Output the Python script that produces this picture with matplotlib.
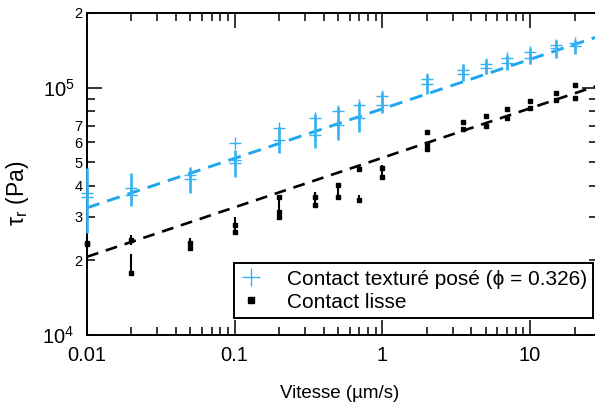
import matplotlib
matplotlib.use("Agg")
import matplotlib.pyplot as plt
import numpy as np
from matplotlib.ticker import FuncFormatter, LogLocator, NullFormatter

plt.rcParams["font.family"] = ["Liberation Sans", "DejaVu Sans"]
plt.rcParams["mathtext.fontset"] = "custom"
plt.rcParams["mathtext.rm"] = "Liberation Sans"
plt.rcParams["mathtext.default"] = "regular"

BLUE = "#36b2f2"

# speeds (µm/s), two runs per speed
speeds = [0.01, 0.02, 0.05, 0.1, 0.2, 0.35, 0.5, 0.7, 1, 2, 3.5, 5, 7, 10, 15, 20]

# textured contact (phi = 0.326)
tex_a = [3.75e4, 3.94e4, 4.44e4, 5.11e4, 6.89e4, 7.56e4, 8.0e4, 8.53e4,
         9.2e4, 1.08e5, 1.18e5, 1.25e5, 1.32e5, 1.39e5, 1.49e5, 1.51e5]
tex_b = [3.62e4, 3.69e4, 4.28e4, 4.97e4, 6.16e4, 6.45e4, 7.08e4, 7.56e4,
         8.53e4, 1.03e5, 1.13e5, 1.2e5, 1.26e5, 1.32e5, 1.44e5, 1.47e5]
tex_lo = [2.59e4, 3.33e4, 3.76e4, 4.36e4, 5.46e4, 5.71e4, 6.16e4, 6.64e4,
          7.92e4, 9.37e4, 1.06e5, 1.13e5, 1.18e5, 1.24e5, 1.32e5, 1.36e5]
tex_hi = [4.74e4, 4.53e4, 4.79e4, 5.61e4, 6.95e4, 7.78e4, 8.38e4, 8.77e4,
          9.63e4, 1.13e5, 1.24e5, 1.30e5, 1.35e5, 1.45e5, 1.56e5, 1.56e5]
tex_extra_v = [0.1]
tex_extra = [5.99e4]

# smooth contact
liss_a = [2.36e4, 2.42e4, 2.36e4, 2.79e4, 3.62e4, 3.62e4, 4.05e4, 4.7e4,
          4.74e4, 6.64e4, 7.28e4, 7.7e4, 8.22e4, 8.86e4, 9.46e4, 1.02e5]
liss_b = [2.33e4, 1.78e4, 2.25e4, 2.61e4, 3.15e4, 3.36e4, 3.62e4, 3.52e4,
          4.36e4, 5.93e4, 6.82e4, 7.02e4, 7.56e4, 8.3e4, 8.94e4, 9.04e4]
liss_extra_v = [0.2, 2]
liss_extra = [3.0e4, 5.66e4]
liss_bar_v = [0.01, 0.02, 0.02, 0.05, 0.1, 0.2, 0.35, 0.5, 0.7, 1, 2]
liss_bar_lo = [2.21e4, 2.31e4, 1.78e4, 2.21e4, 2.54e4, 2.92e4, 3.3e4, 3.6e4, 3.45e4, 4.3e4, 5.6e4]
liss_bar_hi = [2.54e4, 2.54e4, 2.13e4, 2.47e4, 3.0e4, 3.62e4, 3.79e4, 4.1e4, 3.69e4, 4.88e4, 6.0e4]

# power-law fits tau = A * v^n
fit_n = 0.2
tex_A = 8.2e4
liss_A = 5.2e4

x_range = (0.01, 28.4)
y_range = (1e4, 2e5)

fig = plt.figure(figsize=(5.95, 4.09), dpi=100)
ax = fig.add_axes([87 / 595, 74 / 409, 510 / 595, 322 / 409])
ax.set_xscale("log")
ax.set_yscale("log")
ax.set_xlim(*x_range)
ax.set_ylim(*y_range)

# fits
v_fit = np.array(x_range)
ax.plot(v_fit, tex_A * v_fit ** fit_n, color="#1ea6ee", lw=2.1, dashes=(4.5, 2.8), zorder=2)
ax.plot(v_fit, liss_A * v_fit ** fit_n, color="black", lw=1.9, dashes=(4.5, 3.0), zorder=2)

# error bars
ax.vlines(speeds, tex_lo, tex_hi, color=BLUE, lw=1.9, clip_on=False, zorder=3)
ax.vlines(liss_bar_v, liss_bar_lo, liss_bar_hi, color="black", lw=1.5, clip_on=False, zorder=3)

# points
tex_v = speeds + speeds + tex_extra_v
tex_tau = tex_a + tex_b + tex_extra
ax.plot(tex_v, tex_tau, ls="none", marker="+", ms=9, mew=1.0, color=BLUE,
        clip_on=False, zorder=4, label="Contact texturé posé (ϕ = 0.326)")
liss_v = speeds + speeds + liss_extra_v
liss_tau = liss_a + liss_b + liss_extra
ax.plot(liss_v, liss_tau, ls="none", marker="s", ms=3.2, color="black",
        clip_on=False, zorder=4, label="Contact lisse")

# ticks
ax.tick_params(which="both", direction="in", top=True, right=True, width=1.1)
ax.tick_params(which="major", length=11, labelsize=14.5)
ax.tick_params(axis="x", which="major", pad=8)
ax.tick_params(axis="y", which="major", pad=9)
ax.tick_params(which="minor", length=5.5, labelsize=10.5, pad=3)
ax.xaxis.set_major_formatter(FuncFormatter(lambda v, p: f"{v:g}"))
ax.xaxis.set_minor_formatter(NullFormatter())
ax.yaxis.set_minor_locator(LogLocator(base=10, subs=np.arange(2, 10)))


def minor_label(v, pos):
    m = round(v / 10 ** np.floor(np.log10(v) + 1e-9))
    return f"{m}" if m <= 7 else ""


ax.yaxis.set_minor_formatter(FuncFormatter(minor_label))
for sp in ax.spines.values():
    sp.set_linewidth(1.4)

ax.set_xlabel("Vitesse (µm/s)", fontsize=13.5)
ax.xaxis.set_label_coords(0.496, -0.155)
ax.set_ylabel("τ$_{r}$ (Pa)", fontsize=16.5)
ax.yaxis.set_label_coords(-0.11, 0.44)

leg = ax.legend(loc="lower right", bbox_to_anchor=(0.992, 0.053), borderaxespad=0,
                fontsize=15, fancybox=False, framealpha=1, edgecolor="black",
                handlelength=1.0, handletextpad=1.2, markerscale=1.4,
                borderpad=0.3, labelspacing=0.2)
leg.get_frame().set_linewidth(1.4)

fig.savefig("out.png", dpi=100)
